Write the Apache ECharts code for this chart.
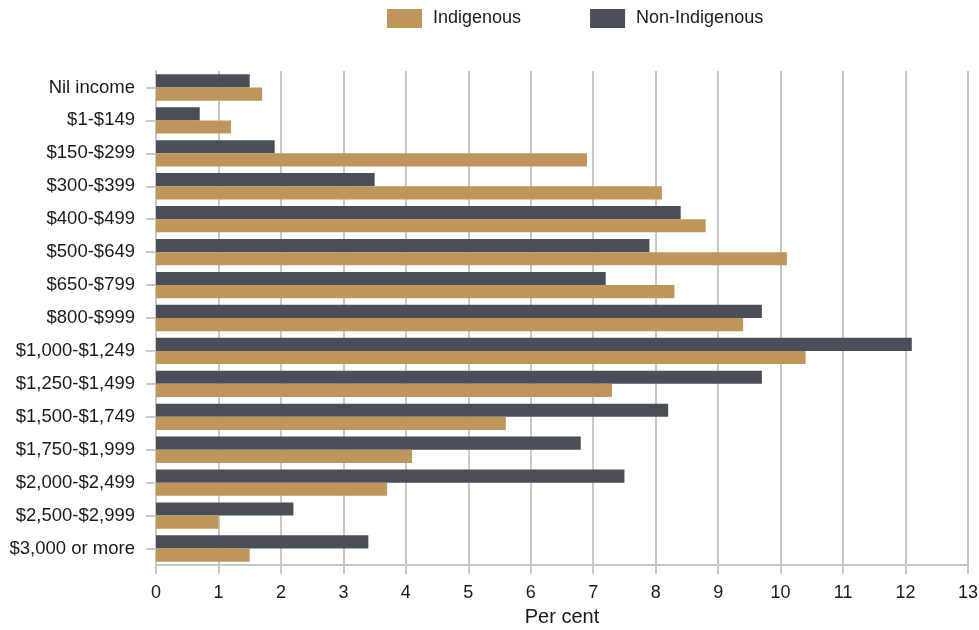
<!DOCTYPE html>
<html>
<head>
<meta charset="utf-8">
<script src="https://cdn.jsdelivr.net/npm/echarts@6/dist/echarts.min.js"></script>
<style>html,body{margin:0;padding:0;background:#fff}#c{width:979px;height:630px}</style>
</head>
<body>
<div id="c"></div>
<script>
const categories = ["Nil income","$1-$149","$150-$299","$300-$399","$400-$499","$500-$649","$650-$799","$800-$999","$1,000-$1,249","$1,250-$1,499","$1,500-$1,749","$1,750-$1,999","$2,000-$2,499","$2,500-$2,999","$3,000 or more"];
const indigenous = [1.7,1.2,6.9,8.1,8.8,10.1,8.3,9.4,10.4,7.3,5.6,4.1,3.7,1.0,1.5];
const nonIndigenous = [1.5,0.7,1.9,3.5,8.4,7.9,7.2,9.7,12.1,9.7,8.2,6.8,7.5,2.2,3.4];
const xTicks = [0,1,2,3,4,5,6,7,8,9,10,11,12,13];

const chart = echarts.init(document.getElementById('c'), null, {renderer:'canvas'});
const font = 'Liberation Sans, Arial, sans-serif';
chart.setOption({
  animation:false,
  textStyle:{fontFamily:font},
  legend:{
    top:9, left:387, padding:0,
    itemWidth:35, itemHeight:19, itemGap:69,
    icon:'rect',
    data:['Indigenous','Non-Indigenous'],
    textStyle:{fontSize:18,color:'#1a1a1a',fontFamily:font,padding:[0,0,0,6]}
  },
  grid:{left:156,right:11,top:71,bottom:65,containLabel:false,outerBoundsMode:'none'},
  xAxis:{
    type:'value', min:xTicks[0], max:xTicks[xTicks.length-1], interval:1,
    name:'Per cent', nameLocation:'middle', nameGap:42,
    nameTextStyle:{fontSize:20,color:'#1a1a1a',fontFamily:font},
    axisLine:{show:true,lineStyle:{color:'#c8c8c8',width:2}},
    axisTick:{show:true,length:9,lineStyle:{color:'#c8c8c8',width:2}},
    axisLabel:{fontSize:18,color:'#1a1a1a',margin:19,fontFamily:font},
    splitLine:{show:true,lineStyle:{color:'#c8c8c8',width:2}}
  },
  yAxis:{
    type:'category', data:categories, inverse:true,
    axisLine:{show:true,lineStyle:{color:'#c8c8c8',width:2}},
    axisTick:{show:true,alignWithLabel:true,length:10,lineStyle:{color:'#c8c8c8',width:2}},
    axisLabel:{fontSize:18.5,color:'#1a1a1a',margin:21,fontFamily:font}
  },
  series:[
    {name:'Non-Indigenous',type:'bar',data:nonIndigenous,itemStyle:{color:'#4A4E56'},barGap:'0%',barCategoryGap:'20%'},
    {name:'Indigenous',type:'bar',data:indigenous,itemStyle:{color:'#BE955B'},barGap:'0%',barCategoryGap:'20%'}
  ]
});
</script>
</body>
</html>
